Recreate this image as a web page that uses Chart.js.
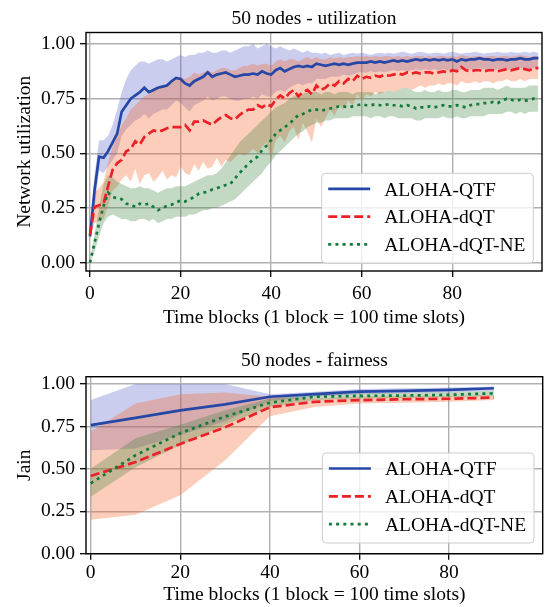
<!DOCTYPE html>
<html>
<head>
<meta charset="utf-8">
<script src="https://cdn.jsdelivr.net/npm/chart.js@4.4.1/dist/chart.umd.min.js"></script>
<style>
  html, body { margin: 0; padding: 0; background: #fff; }
  canvas { display: block; }
</style>
</head>
<body>
<canvas id="utilChart" width="547" height="340"></canvas>
<canvas id="fairChart" width="547" height="267"></canvas>
<script>
// series names, shared by both panels
const seriesNames = ['ALOHA-QTF', 'ALOHA-dQT', 'ALOHA-dQT-NE'];

// axis ticks
const xTickValues = [0, 20, 40, 60, 80];
const yTickValues = [0, 0.25, 0.5, 0.75, 1.0];

// --- top panel: network utilization, one value per time block (0..99) ---
const utilQTF = [0.12,0.33,0.485,0.48,0.51,0.55,0.59,0.69,0.72,0.75,
  0.765,0.78,0.80,0.78,0.79,0.80,0.805,0.81,0.83,0.845,
  0.84,0.82,0.81,0.83,0.84,0.85,0.87,0.85,0.86,0.865,
  0.87,0.86,0.85,0.855,0.86,0.86,0.865,0.86,0.875,0.865,
  0.86,0.88,0.89,0.875,0.885,0.895,0.90,0.895,0.90,0.895,
  0.91,0.905,0.90,0.905,0.91,0.905,0.91,0.905,0.91,0.915,
  0.915,0.915,0.92,0.915,0.92,0.915,0.92,0.925,0.92,0.925,
  0.92,0.925,0.93,0.925,0.93,0.925,0.93,0.925,0.93,0.925,
  0.93,0.92,0.93,0.925,0.93,0.93,0.935,0.93,0.93,0.925,
  0.93,0.93,0.925,0.93,0.93,0.935,0.93,0.93,0.935,0.935];
const utilQTFHigh = [0.15,0.40,0.56,0.56,0.58,0.63,0.70,0.78,0.84,0.88,
  0.90,0.92,0.92,0.91,0.92,0.93,0.93,0.92,0.93,0.94,
  0.95,0.94,0.95,0.95,0.96,0.96,0.97,0.96,0.96,0.97,
  0.97,0.96,0.97,0.98,0.99,0.99,1.00,0.98,0.99,1.00,
  0.99,0.98,0.99,0.98,0.97,0.98,0.97,0.96,0.97,0.96,
  0.96,0.955,0.96,0.95,0.955,0.96,0.95,0.955,0.96,0.955,
  0.96,0.955,0.95,0.955,0.96,0.955,0.96,0.955,0.96,0.965,
  0.96,0.955,0.96,0.965,0.96,0.955,0.96,0.96,0.955,0.96,
  0.965,0.96,0.955,0.96,0.96,0.965,0.96,0.955,0.96,0.96,
  0.965,0.96,0.96,0.965,0.96,0.96,0.965,0.96,0.965,0.96];
const utilQTFLow = [0.10,0.24,0.42,0.41,0.44,0.47,0.50,0.58,0.61,0.63,
  0.65,0.66,0.68,0.66,0.68,0.69,0.70,0.70,0.72,0.74,
  0.73,0.71,0.69,0.72,0.73,0.74,0.76,0.74,0.75,0.76,
  0.76,0.75,0.74,0.74,0.75,0.75,0.76,0.75,0.77,0.76,
  0.76,0.78,0.79,0.78,0.80,0.81,0.82,0.81,0.82,0.82,
  0.84,0.84,0.84,0.85,0.85,0.85,0.86,0.855,0.86,0.87,
  0.87,0.87,0.875,0.87,0.875,0.87,0.875,0.88,0.875,0.88,
  0.875,0.88,0.885,0.88,0.885,0.88,0.885,0.88,0.885,0.88,
  0.885,0.875,0.885,0.88,0.885,0.885,0.89,0.885,0.885,0.88,
  0.885,0.885,0.88,0.885,0.885,0.89,0.885,0.885,0.89,0.89];

const utilDQT = [0.127,0.255,0.263,0.27,0.35,0.425,0.455,0.47,0.51,0.52,
  0.555,0.54,0.575,0.59,0.605,0.60,0.605,0.615,0.62,0.62,
  0.62,0.63,0.605,0.645,0.645,0.65,0.64,0.63,0.65,0.665,
  0.675,0.66,0.655,0.675,0.69,0.70,0.70,0.72,0.71,0.725,
  0.715,0.745,0.765,0.75,0.775,0.79,0.76,0.78,0.79,0.77,
  0.81,0.79,0.80,0.82,0.81,0.83,0.82,0.84,0.83,0.855,
  0.84,0.85,0.845,0.855,0.85,0.86,0.855,0.86,0.865,0.86,
  0.87,0.865,0.87,0.865,0.87,0.87,0.865,0.87,0.875,0.87,
  0.88,0.875,0.895,0.88,0.875,0.88,0.88,0.875,0.88,0.88,
  0.875,0.88,0.885,0.88,0.885,0.89,0.885,0.88,0.89,0.89];
const utilDQTHigh = [0.14,0.32,0.34,0.37,0.46,0.53,0.58,0.63,0.66,0.70,
  0.72,0.74,0.76,0.77,0.79,0.80,0.80,0.82,0.83,0.84,
  0.85,0.84,0.85,0.87,0.86,0.87,0.88,0.87,0.88,0.89,
  0.89,0.88,0.88,0.89,0.90,0.90,0.91,0.90,0.91,0.91,
  0.90,0.92,0.93,0.92,0.93,0.93,0.92,0.93,0.94,0.93,
  0.94,0.93,0.93,0.94,0.935,0.94,0.935,0.94,0.94,0.945,
  0.94,0.945,0.94,0.945,0.94,0.945,0.945,0.94,0.945,0.94,
  0.945,0.94,0.945,0.945,0.94,0.945,0.94,0.945,0.945,0.94,
  0.945,0.94,0.95,0.945,0.94,0.945,0.945,0.94,0.945,0.945,
  0.94,0.945,0.945,0.94,0.945,0.95,0.945,0.94,0.945,0.945];
const utilDQTLow = [0.11,0.18,0.19,0.20,0.26,0.33,0.35,0.38,0.40,0.37,
  0.43,0.36,0.40,0.41,0.37,0.39,0.42,0.38,0.40,0.39,
  0.44,0.41,0.40,0.45,0.42,0.46,0.43,0.44,0.48,0.44,
  0.47,0.46,0.48,0.50,0.49,0.50,0.52,0.50,0.53,0.55,
  0.47,0.56,0.58,0.55,0.60,0.62,0.56,0.64,0.60,0.55,
  0.66,0.62,0.66,0.70,0.67,0.72,0.70,0.74,0.72,0.77,
  0.74,0.77,0.76,0.78,0.77,0.78,0.79,0.78,0.79,0.80,
  0.80,0.79,0.80,0.81,0.80,0.81,0.81,0.82,0.81,0.82,
  0.82,0.81,0.83,0.82,0.82,0.83,0.82,0.83,0.83,0.82,
  0.83,0.83,0.84,0.83,0.83,0.84,0.83,0.84,0.84,0.84];

const utilNE = [0.0,0.09,0.18,0.26,0.32,0.30,0.295,0.29,0.27,0.265,
  0.255,0.27,0.265,0.27,0.255,0.24,0.25,0.26,0.265,0.275,
  0.285,0.28,0.29,0.30,0.315,0.32,0.325,0.335,0.34,0.35,
  0.355,0.36,0.385,0.41,0.43,0.455,0.47,0.485,0.515,0.535,
  0.56,0.59,0.605,0.62,0.635,0.655,0.675,0.68,0.69,0.70,
  0.70,0.695,0.70,0.705,0.71,0.715,0.715,0.71,0.715,0.72,
  0.725,0.72,0.72,0.725,0.72,0.72,0.725,0.72,0.72,0.715,
  0.72,0.715,0.705,0.71,0.71,0.715,0.71,0.715,0.72,0.715,
  0.715,0.72,0.715,0.71,0.72,0.725,0.725,0.73,0.73,0.735,
  0.73,0.74,0.75,0.745,0.74,0.745,0.74,0.745,0.75,0.745];
const utilNEHigh = [0.01,0.13,0.25,0.36,0.40,0.39,0.37,0.36,0.35,0.34,
  0.34,0.35,0.34,0.34,0.33,0.32,0.33,0.34,0.34,0.35,
  0.35,0.35,0.36,0.37,0.38,0.39,0.40,0.40,0.41,0.43,
  0.46,0.49,0.52,0.55,0.57,0.59,0.61,0.63,0.65,0.67,
  0.69,0.71,0.72,0.73,0.75,0.76,0.77,0.77,0.78,0.78,
  0.78,0.77,0.78,0.78,0.77,0.78,0.78,0.78,0.77,0.78,
  0.78,0.78,0.78,0.77,0.78,0.78,0.79,0.78,0.79,0.80,
  0.80,0.79,0.78,0.78,0.79,0.78,0.78,0.79,0.78,0.78,
  0.79,0.79,0.78,0.78,0.79,0.79,0.79,0.80,0.80,0.80,
  0.79,0.80,0.81,0.80,0.80,0.80,0.80,0.81,0.81,0.81];
const utilNELow = [0.0,0.05,0.12,0.18,0.21,0.22,0.21,0.20,0.20,0.19,
  0.19,0.20,0.20,0.19,0.20,0.18,0.19,0.20,0.20,0.21,
  0.21,0.21,0.22,0.22,0.23,0.24,0.24,0.25,0.25,0.26,
  0.27,0.28,0.29,0.31,0.33,0.35,0.37,0.39,0.41,0.44,
  0.46,0.49,0.51,0.53,0.55,0.57,0.59,0.60,0.62,0.63,
  0.64,0.64,0.65,0.65,0.66,0.66,0.66,0.66,0.67,0.67,
  0.67,0.67,0.66,0.67,0.67,0.66,0.67,0.67,0.66,0.66,
  0.66,0.66,0.65,0.65,0.66,0.66,0.66,0.66,0.67,0.66,
  0.66,0.67,0.66,0.66,0.67,0.67,0.67,0.67,0.68,0.68,
  0.68,0.68,0.69,0.69,0.68,0.69,0.68,0.69,0.69,0.69];

// --- bottom panel: Jain fairness, every 10 time blocks ---
const fairBlocks = [0, 10, 20, 30, 40, 50, 60, 70, 80, 90];
const fairQTF     = [0.758,0.80,0.845,0.88,0.925,0.94,0.955,0.96,0.965,0.975];
const fairQTFHigh = [0.905,1.0,1.0,1.0,0.94,0.955,0.97,0.975,0.98,0.985];
const fairQTFLow  = [0.61,0.62,0.70,0.78,0.90,0.925,0.94,0.945,0.95,0.96];
const fairDQT     = [0.458,0.54,0.647,0.745,0.863,0.895,0.905,0.91,0.913,0.92];
const fairDQTHigh = [0.72,0.885,0.94,0.95,0.925,0.915,0.925,0.93,0.93,0.935];
const fairDQTLow  = [0.20,0.23,0.345,0.55,0.81,0.865,0.885,0.89,0.895,0.905];
const fairNE      = [0.415,0.58,0.71,0.808,0.89,0.925,0.93,0.932,0.936,0.945];
const fairNEHigh  = [0.50,0.68,0.76,0.845,0.915,0.94,0.945,0.948,0.952,0.96];
const fairNELow   = [0.335,0.51,0.64,0.76,0.866,0.905,0.915,0.918,0.922,0.93];

// styles
const lineColors = ['#2747a6', '#ec2027', '#137a3b'];
const bandColors = ['rgba(80,90,200,0.3)', 'rgba(245,100,40,0.32)', 'rgba(60,130,60,0.3)'];
const lineDashes = [[], [9, 4], [3, 4.2]];
const FONT = '"Liberation Serif", "DejaVu Serif", serif';

Chart.defaults.font.family = FONT;
Chart.defaults.font.size = 19.5;
Chart.defaults.color = '#000';

// frame, title and boxed legend drawn over the plot area
const panelPlugin = {
  id: 'panel',
  afterDatasetsDraw(chart, args, opts) {
    const a = chart.chartArea, ctx = chart.ctx;
    ctx.save();
    ctx.strokeStyle = '#000';
    ctx.lineWidth = 1.4;
    ctx.strokeRect(a.left, a.top, a.right - a.left, a.bottom - a.top);

    ctx.font = '19.5px ' + FONT;
    ctx.fillStyle = '#000';
    ctx.textAlign = 'center';
    ctx.textBaseline = 'alphabetic';
    ctx.fillText(opts.title, (a.left + a.right) / 2, opts.titleBaseline);

    const w = 211.6, h = 90;
    const x0 = a.right - 8.7 - w, y0 = a.bottom - opts.legendInset - h;
    ctx.beginPath();
    ctx.roundRect(x0, y0, w, h, 4);
    ctx.fillStyle = 'rgba(255,255,255,0.8)';
    ctx.fill();
    ctx.strokeStyle = '#cccccc';
    ctx.lineWidth = 1;
    ctx.stroke();
    ctx.textAlign = 'left';
    seriesNames.forEach(function(name, k) {
      const y = y0 + 15.5 + k * 27.8;
      ctx.beginPath();
      ctx.setLineDash(lineDashes[k]);
      ctx.lineCap = 'butt';
      ctx.strokeStyle = lineColors[k];
      ctx.lineWidth = 2.7;
      ctx.moveTo(x0 + 6.5, y);
      ctx.lineTo(x0 + 48.5, y);
      ctx.stroke();
      ctx.setLineDash([]);
      ctx.fillStyle = '#000';
      ctx.fillText(name, x0 + 62.5, y + 6.8);
    });
    ctx.restore();
  }
};

function points(xs, ys) {
  return ys.map(function(v, i) { return {x: xs[i], y: v}; });
}

function buildChart(id, o) {
  const datasets = [];
  o.bands.forEach(function(b, k) {
    datasets.push({data: points(o.x, b[0]), borderWidth: 0, pointRadius: 0, fill: false, order: 6 - k});
    datasets.push({data: points(o.x, b[1]), borderWidth: 0, pointRadius: 0, fill: '-1',
      backgroundColor: bandColors[k], order: 6 - k});
  });
  o.lines.forEach(function(l, k) {
    datasets.push({data: points(o.x, l), borderColor: lineColors[k], borderWidth: 2.7,
      borderDash: lineDashes[k], borderCapStyle: 'butt', pointRadius: 0, fill: false,
      tension: 0, order: 3 - k});
  });

  return new Chart(document.getElementById(id).getContext('2d'), {
    type: 'line',
    data: {datasets: datasets},
    plugins: [panelPlugin],
    options: {
      responsive: false,
      animation: false,
      devicePixelRatio: 1,
      layout: {padding: {left: 0, top: o.padTop, right: o.padRight, bottom: 0}},
      plugins: {
        legend: {display: false},
        tooltip: {enabled: false},
        panel: {title: o.title, titleBaseline: o.titleBaseline, legendInset: o.legendInset}
      },
      scales: {
        x: {
          type: 'linear', min: o.xMin, max: o.xMax,
          afterBuildTicks: function(s) { s.ticks = xTickValues.map(function(v) { return {value: v}; }); },
          afterFit: function(s) { s.height = o.xAxisHeight; },
          border: {display: false},
          grid: {color: '#b0b0b0', lineWidth: 1.4, tickLength: 6, tickColor: '#000', tickWidth: 1.3},
          ticks: {padding: o.xTickPad, maxRotation: 0, autoSkip: false, callback: function(v) { return v; }},
          title: {display: true, text: 'Time blocks (1 block = 100 time slots)',
            padding: {top: 0, bottom: o.xTitlePad}}
        },
        y: {
          min: o.yMin, max: o.yMax,
          afterBuildTicks: function(s) { s.ticks = yTickValues.map(function(v) { return {value: v}; }); },
          afterFit: function(s) { s.width = 86; },
          border: {display: false},
          grid: {color: '#b0b0b0', lineWidth: 1.4, tickLength: 6, tickColor: '#000', tickWidth: 1.3},
          ticks: {padding: 5, callback: function(v) { return Number(v).toFixed(2); }},
          title: {display: true, text: o.yTitle, padding: {top: 12.8, bottom: 0}}
        }
      }
    }
  });
}

const utilBlocks = utilQTF.map(function(v, i) { return i; });

buildChart('utilChart', {
  x: utilBlocks,
  lines: [utilQTF, utilDQT, utilNE],
  bands: [[utilQTFLow, utilQTFHigh], [utilDQTLow, utilDQTHigh], [utilNELow, utilNEHigh]],
  title: '50 nodes - utilization', titleBaseline: 24,
  yTitle: 'Network utilization',
  xMin: -0.88, xMax: 99.8, yMin: -0.038, yMax: 1.0526,
  padTop: 32.5, padRight: 5, xAxisHeight: 69, xTickPad: 5, xTitlePad: 10.5, legendInset: 7.7
});

buildChart('fairChart', {
  x: fairBlocks,
  lines: [fairQTF, fairDQT, fairNE],
  bands: [[fairQTFLow, fairQTFHigh], [fairDQTLow, fairDQTHigh], [fairNELow, fairNEHigh]],
  title: '50 nodes - fairness', titleBaseline: 26,
  yTitle: 'Jain',
  xMin: -1.05, xMax: 100.9, yMin: 0, yMax: 1.043,
  padTop: 36.7, padRight: 4.3, xAxisHeight: 53.3, xTickPad: 1.3, xTitlePad: 0, legendInset: 10.7
});
</script>
</body>
</html>
